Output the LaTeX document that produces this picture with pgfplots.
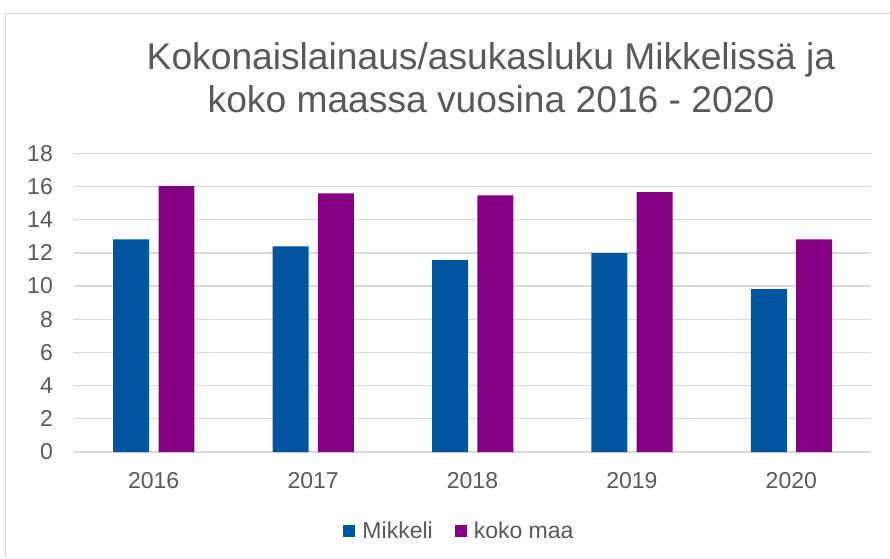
\documentclass[border=0pt]{standalone}
\usepackage{pgfplots}
\pgfplotsset{compat=1.18}
\usepackage{fontspec}
\setmainfont{Liberation Sans}
\definecolor{txt}{HTML}{595959}
\definecolor{gridc}{HTML}{D9D9D9}
\definecolor{mik}{HTML}{00559F}
\definecolor{koko}{HTML}{830082}
\begin{document}
\begin{tikzpicture}[x=1pt,y=1pt]
\useasboundingbox (0,0) rectangle (890,558);
\draw[gridc, line width=1.5pt] (5.5,0) -- (5.5,544.5) -- (890,544.5);
\begin{axis}[
 at={(74pt,106pt)}, anchor=south west,
 width=797pt, height=298.7pt, scale only axis,
 xmin=-0.5, xmax=4.5, ymin=0, ymax=18,
 xtick={0,1,2,3,4}, xticklabels={2016,2017,2018,2019,2020},
 ytick={0,2,...,18},
 axis line style={draw=none},
 major tick length=0pt,
 ymajorgrids, grid style={gridc, line width=1.3pt},
 tick label style={font=\fontsize{23}{27}\selectfont, text=txt, inner sep=0pt},
 /pgf/number format/assume math mode=true,
 yticklabel style={xshift=-21pt},
 xticklabel style={yshift=-20pt},
 sq legend/.style={legend image code/.code={\fill[##1] (0pt,-6pt) rectangle (12pt,6pt); \path (19pt,0pt);}},
 legend columns=2,
 legend style={draw=none, fill=none, at={(0.4824,-0.2645)}, anchor=center,
   font=\fontsize{23}{27}\selectfont, text=txt, inner sep=0pt,
   /tikz/every even column/.append style={column sep=22pt},
   nodes={inner sep=0pt}},
]
\addplot[ybar, bar width=0.2257, bar shift=-0.141, fill=mik, draw=none, sq legend]
 coordinates {(0,12.81) (1,12.39) (2,11.57) (3,11.99) (4,9.82)};
\addlegendentry{Mikkeli}
\addplot[ybar, bar width=0.2257, bar shift=0.143, fill=koko, draw=none, sq legend]
 coordinates {(0,16.02) (1,15.58) (2,15.46) (3,15.66) (4,12.81)};
\addlegendentry{koko maa}
\end{axis}
\node[anchor=base, text=txt, font=\fontsize{37.2}{42}\selectfont, inner sep=0pt] at (491,488.7) {Kokonaislainaus/asukasluku Mikkelissä ja};
\node[anchor=base, text=txt, font=\fontsize{37.2}{42}\selectfont, inner sep=0pt] at (491,445.7) {koko maassa vuosina 2016 - 2020};
\end{tikzpicture}
\end{document}
